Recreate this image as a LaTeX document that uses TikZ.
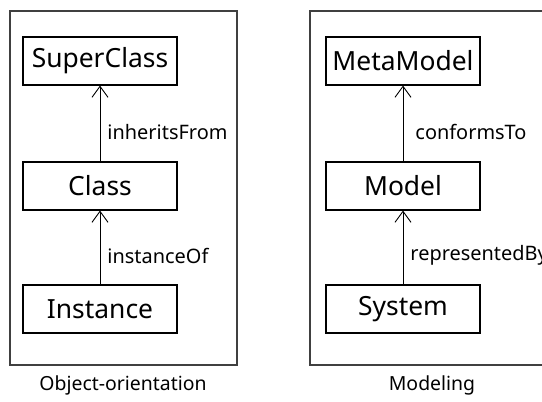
\documentclass[tikz,border=0pt]{standalone}
\usepackage{fontspec}
\setmainfont{Noto Sans}
\usetikzlibrary{arrows.meta}
\begin{document}
\begin{tikzpicture}[x=1bp, y=-1bp, line width=1.1pt,
  class node/.style={rectangle,draw,minimum width=154bp,minimum height=48bp,inner sep=0pt,font=\fontsize{26.5}{30}\selectfont},
  rel/.style={-{Straight Barb[length=11bp,width=16bp,line width=0.9pt]}, line width=0.9pt},
  rel label/.style={anchor=west,inner sep=0pt,font=\fontsize{20}{24}\selectfont},
  frame/.style={draw=black!75,line width=1.2pt}]
\useasboundingbox (0,0) rectangle (542,401);
\clip (0,0) rectangle (542,401);
% frames
\draw[frame] (10,11) rectangle (237,365);
\draw[frame] (310,11) rectangle (560,365);
\begin{scope}
\node[class node] (sup) at (100,61) {SuperClass};
\node[class node] (cls) at (100,186) {Class};
\node[class node] (ins) at (100,309) {Instance};
\node[class node] (meta) at (403,61) {MetaModel};
\node[class node] (mod) at (403,186) {Model};
\node[class node] (sys) at (403,309) {System};
\end{scope}
\begin{scope}
\draw[rel] (cls) edge node[rel label,pos=0.39,xshift=7bp]{inheritsFrom} (sup);
\draw[rel] (ins) edge node[rel label,pos=0.39,xshift=7bp]{instanceOf} (cls);
\draw[rel] (mod) edge node[rel label,pos=0.39,xshift=12bp]{conformsTo} (meta);
\draw[rel] (sys) edge node[rel label,pos=0.39,xshift=7bp]{representedBy} (mod);
\end{scope}
% captions
\node[font=\fontsize{19.5}{23}\selectfont] (oo) at (123,385) {Object-orientation};
\node[font=\fontsize{19.5}{23}\selectfont] (mdl) at (432,385) {Modeling};
\end{tikzpicture}
\end{document}
